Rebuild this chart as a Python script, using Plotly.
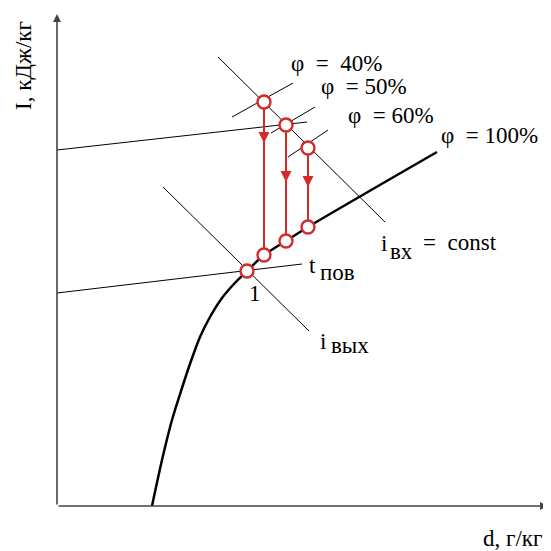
import plotly.graph_objects as go

# Schematic I-d diagram, coordinates in drawing units (x right, y down)
sat_d = [152, 162, 172, 182, 191, 200, 210, 222, 233, 247, 264, 286, 308, 437]
sat_i = [506, 460, 420, 388, 361, 337, 317, 298, 285, 271, 255, 241, 227, 152]

# states on the inlet enthalpy line (phi = 40, 50, 60 %)
top_d = [264, 286, 308]
top_i = [102, 125, 148]
# matching states on the saturation curve
bot_d = [264, 286, 308]
bot_i = [255, 241, 227]
arrow_tip = [143, 182, 187]

point1 = (247, 271)

# thin construction lines: (d0, i0, d1, i1)
thin_lines = {
    "i_in": (218, 57, 385, 222),
    "i_out": (163, 187, 309, 331),
    "t_surf": (57, 293, 302, 264),
    "t_in": (57, 150, 307, 122),
    "phi40": (232, 117, 293, 83),
    "phi50": (271, 133, 315, 107),
    "phi60": (288, 157, 328, 130),
}

RED = "#d42a2a"
FONT = "Liberation Serif, Times New Roman, serif"

fig = go.Figure()

for name, (x0, y0, x1, y1) in thin_lines.items():
    fig.add_trace(go.Scatter(x=[x0, x1], y=[y0, y1], mode="lines",
                             line=dict(color="black", width=1), hoverinfo="skip"))

fig.add_trace(go.Scatter(x=sat_d, y=sat_i, mode="lines",
                         line=dict(color="black", width=2.5, shape="spline", smoothing=0.8),
                         name="φ = 100%"))

for d, i0, i1 in zip(top_d, top_i, bot_i):
    fig.add_trace(go.Scatter(x=[d, d], y=[i0, i1], mode="lines",
                             line=dict(color=RED, width=2), hoverinfo="skip"))

for d, tip in zip(top_d, arrow_tip):
    fig.add_annotation(x=d, y=tip, ax=d, ay=tip - 18, xref="x", yref="y",
                       axref="x", ayref="y", showarrow=True, arrowhead=2,
                       arrowsize=1.1, arrowwidth=2, arrowcolor=RED, text="")

fig.add_trace(go.Scatter(x=top_d + bot_d + [point1[0]], y=top_i + bot_i + [point1[1]],
                         mode="markers",
                         marker=dict(symbol="circle", size=13, color="white",
                                     line=dict(color=RED, width=2.4))))

# axes with arrows
fig.add_annotation(x=548, y=506, ax=57, ay=506, xref="x", yref="y", axref="x", ayref="y",
                   showarrow=True, arrowhead=2, arrowsize=1, arrowwidth=1.6,
                   arrowcolor="#444", text="")
fig.add_annotation(x=57, y=14, ax=57, ay=506, xref="x", yref="y", axref="x", ayref="y",
                   showarrow=True, arrowhead=2, arrowsize=1, arrowwidth=1.6,
                   arrowcolor="#444", text="")

labels = [
    (336, 63, "φ  =  40%"),
    (364, 86, "φ  = 50%"),
    (391, 115, "φ  = 60%"),
    (489, 135, "φ  = 100%"),
    (384, 243, "i"),
    (401, 251, "вх"),
    (460, 242, "=  const"),
    (312, 265, "t"),
    (337, 272, "пов"),
    (255, 293, "1"),
    (323, 341, "i"),
    (350, 345, "вых"),
    (512, 538, "d, г/кг"),
]
for x, y, t in labels:
    fig.add_annotation(x=x, y=y, xref="x", yref="y", text=t, showarrow=False,
                       font=dict(family=FONT, size=23, color="black"))

fig.add_annotation(x=23, y=66, xref="x", yref="y", text="I, кДж/кг", textangle=-90,
                   showarrow=False, font=dict(family=FONT, size=23, color="black"))

# the page body has an 8 px margin, so the figure starts at (8, 8)
fig.update_layout(
    width=543, height=543,
    margin=dict(l=0, r=0, t=0, b=0),
    paper_bgcolor="white", plot_bgcolor="white",
    showlegend=False,
    xaxis=dict(range=[8, 551], visible=False),
    yaxis=dict(range=[551, 8], visible=False),
)

fig.write_html("out.html")
